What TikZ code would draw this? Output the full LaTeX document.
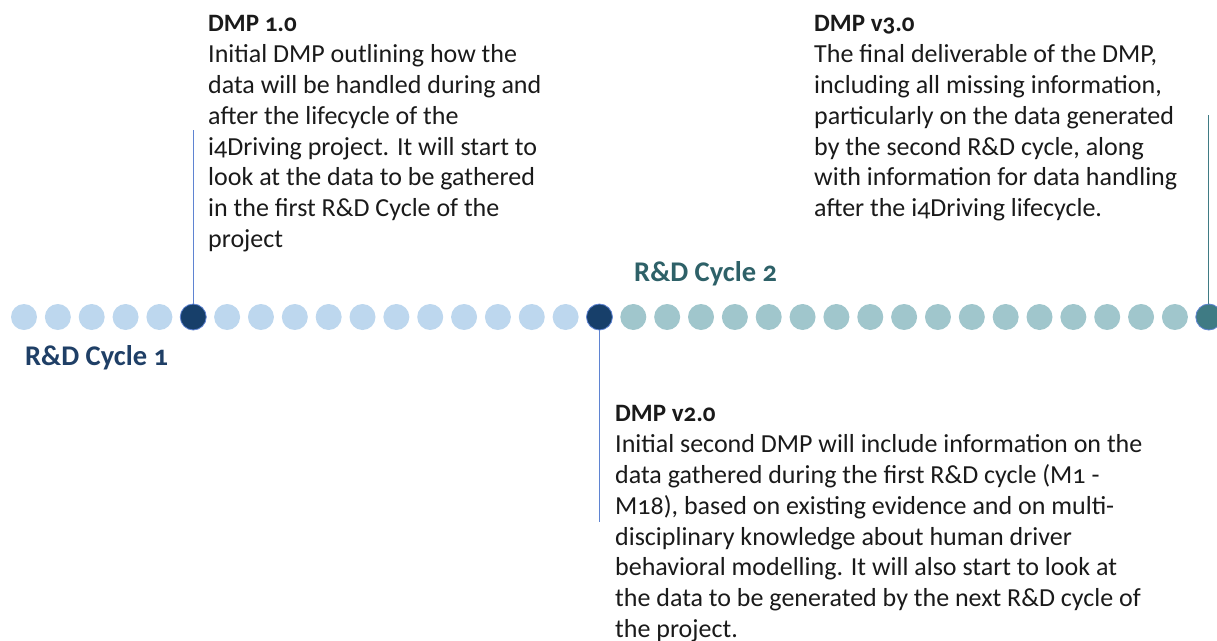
\documentclass[tikz,border=0pt]{standalone}
\usepackage{fontspec}
\setmainfont{Carlito}[Numbers=OldStyle]
\definecolor{lightblue}{HTML}{BDD7EE}
\definecolor{lightteal}{HTML}{A0C6CC}
\definecolor{navy}{HTML}{173F6A}
\definecolor{darkteal}{HTML}{3F7B84}
\definecolor{navytext}{HTML}{1F3F66}
\definecolor{tealtext}{HTML}{2E6168}
\definecolor{bluelinecol}{HTML}{5F84D2}
\definecolor{bodytext}{HTML}{1A1A1A}
\tikzset{
  dot/.style={circle, inner sep=0pt, minimum size=26pt},
  body/.style={anchor=north west, align=left, inner sep=0pt, text=bodytext, font=\fontsize{26}{30.8}\selectfont},
  cycle label/.style={anchor=base west, inner sep=0pt, font=\fontsize{28.5}{30}\selectfont\bfseries}
}
\newcommand{\dmptitle}[1]{{\fontsize{25}{30.8}\selectfont\bfseries #1}}
\begin{document}
\begin{tikzpicture}[x=1pt, y=-1pt]
\useasboundingbox (0,0) rectangle (1217,640);
\clip (0,0) rectangle (1217,640);
\node[dot, fill=lightblue] (dot0) at (24,317){};
\node[dot, fill=lightblue] (dot1) at (57.85,317){};
\node[dot, fill=lightblue] (dot2) at (91.7,317){};
\node[dot, fill=lightblue] (dot3) at (125.55,317){};
\node[dot, fill=lightblue] (dot4) at (159.4,317){};
\node[dot, fill=navy, draw=bluelinecol, line width=.8pt] (dot5) at (193.25,317){};
\node[dot, fill=lightblue] (dot6) at (227.1,317){};
\node[dot, fill=lightblue] (dot7) at (260.95,317){};
\node[dot, fill=lightblue] (dot8) at (294.8,317){};
\node[dot, fill=lightblue] (dot9) at (328.65,317){};
\node[dot, fill=lightblue] (dot10) at (362.5,317){};
\node[dot, fill=lightblue] (dot11) at (396.35,317){};
\node[dot, fill=lightblue] (dot12) at (430.2,317){};
\node[dot, fill=lightblue] (dot13) at (464.05,317){};
\node[dot, fill=lightblue] (dot14) at (497.9,317){};
\node[dot, fill=lightblue] (dot15) at (531.75,317){};
\node[dot, fill=lightblue] (dot16) at (565.6,317){};
\node[dot, fill=navy, draw=bluelinecol, line width=.8pt] (dot17) at (599.45,317){};
\node[dot, fill=lightteal] (dot18) at (633.3,317){};
\node[dot, fill=lightteal] (dot19) at (667.15,317){};
\node[dot, fill=lightteal] (dot20) at (701,317){};
\node[dot, fill=lightteal] (dot21) at (734.85,317){};
\node[dot, fill=lightteal] (dot22) at (768.7,317){};
\node[dot, fill=lightteal] (dot23) at (802.55,317){};
\node[dot, fill=lightteal] (dot24) at (836.4,317){};
\node[dot, fill=lightteal] (dot25) at (870.25,317){};
\node[dot, fill=lightteal] (dot26) at (904.1,317){};
\node[dot, fill=lightteal] (dot27) at (937.95,317){};
\node[dot, fill=lightteal] (dot28) at (971.8,317){};
\node[dot, fill=lightteal] (dot29) at (1005.65,317){};
\node[dot, fill=lightteal] (dot30) at (1039.5,317){};
\node[dot, fill=lightteal] (dot31) at (1073.35,317){};
\node[dot, fill=lightteal] (dot32) at (1107.2,317){};
\node[dot, fill=lightteal] (dot33) at (1141.05,317){};
\node[dot, fill=lightteal] (dot34) at (1174.9,317){};
\node[dot, fill=darkteal, draw=bluelinecol, line width=.8pt] (dot35) at (1208.75,317){};
% milestone ticks
\coordinate (tick1) at (193.25,130);
\coordinate (tick2) at (599.45,522);
\coordinate (tick3) at (1208.75,115);
\draw[bluelinecol, line width=1pt](dot5) -- (tick1);
\draw[bluelinecol, line width=1pt](dot17) -- (tick2);
\draw[darkteal, line width=1pt](dot35) -- (tick3);
% cycle labels
\node[cycle label, text=navytext] (cycle1) at (25,365){R\&D Cycle 1};
\node[cycle label, text=tealtext] (cycle2) at (634,281){R\&D Cycle 2};
% milestone texts
\node[body] (dmp1) at (208,15.5){\dmptitle{DMP 1.0}\\
Initial DMP outlining how the\\
data will be handled during and\\
after the lifecycle of the\\
i4Driving project. It will start to\\
look at the data to be gathered\\
in the first R\&D Cycle of the\\
project};
\node[body] (dmp3) at (814,15.5){\dmptitle{DMP v3.0}\\
The final deliverable of the DMP,\\
including all missing information,\\
particularly on the data generated\\
by the second R\&D cycle, along\\
with information for data handling\\
after the i4Driving lifecycle.};
\node[body] (dmp2) at (615,405.5){\dmptitle{DMP v2.0}\\
Initial second DMP will include information on the\\
data gathered during the first R\&D cycle (M1 -\\
M18), based on existing evidence and on multi-\\
disciplinary knowledge about human driver\\
behavioral modelling. It will also start to look at\\
the data to be generated by the next R\&D cycle of\\
the project.};
\end{tikzpicture}
\end{document}
